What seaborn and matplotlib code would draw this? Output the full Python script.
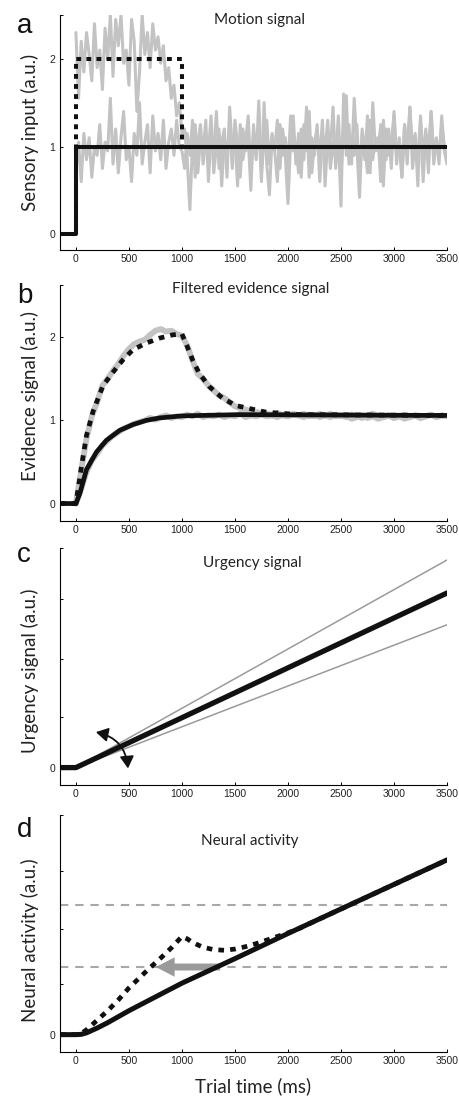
import numpy as np
import pandas as pd
import seaborn as sns
import matplotlib.pyplot as plt
from matplotlib.patches import FancyArrowPatch

# ---- a: motion signal (noisy samples every 25 ms from 0 to 3500 ms) ----
motion_strong = [2.30, 1.55, 2.20, 1.85, 2.30, 2.05, 1.75, 2.40, 1.90, 2.10, 1.65, 2.35, 2.00,
                 2.50, 1.80, 2.45, 2.15, 2.50, 1.95, 2.10, 1.70, 2.45, 2.20, 1.40, 1.85, 2.50,
                 2.05, 2.30, 1.90, 2.40, 2.10, 2.25, 1.95, 2.15, 1.75, 1.90, 1.55, 1.70, 1.35,
                 1.50, 1.15,
                 1.20, 0.85, 0.28, 1.05, 1.25, 0.70, 1.10, 0.95, 1.30, 0.60, 1.15, 0.90, 1.40,
                 0.75, 1.05, 1.20, 0.65, 1.45, 0.95, 1.10, 0.55, 1.25, 0.85, 1.05, 1.35, 0.70,
                 1.15, 0.90, 1.25, 0.60, 1.50, 0.80, 0.45, 1.10, 0.95, 1.30, 0.75, 1.20, 0.90,
                 0.35, 1.05, 1.35, 0.80, 1.15, 0.65, 1.25, 0.95, 1.40, 0.70, 1.05, 1.20, 0.85,
                 1.30, 0.55, 1.10, 0.95, 1.45, 0.75, 1.15, 0.32, 1.60, 0.90, 1.25, 0.80, 1.55,
                 1.00, 0.42, 1.20, 0.85, 1.35, 0.70, 1.50, 0.95, 1.10, 0.60, 1.30, 0.85, 1.20,
                 0.75, 1.40, 0.90, 1.05, 0.65, 1.25, 0.80, 1.45, 0.95, 1.15, 0.55, 1.35, 0.85,
                 1.20, 0.70, 1.40, 0.90, 1.10, 0.80, 1.35, 0.95, 0.80]
motion_weak = [0.70, 1.05, 0.60, 1.15, 0.85, 1.10, 0.65, 1.00, 0.90, 1.25, 0.75, 1.05, 0.95,
               1.55, 0.80, 1.20, 0.70, 1.10, 1.40, 0.85, 1.00, 0.60, 1.15, 0.90, 1.50, 0.80,
               1.05, 1.25, 0.70, 1.35, 0.95, 1.15, 0.85, 1.30, 0.75, 1.05, 1.20, 0.90, 1.30,
               1.00, 0.95,
               0.75, 1.15, 0.90, 1.30, 0.65, 1.05, 1.25, 0.80, 1.10, 0.95, 1.35, 0.70, 1.00,
               1.20, 0.55, 1.10, 0.90, 1.25, 0.75, 1.30, 1.00, 0.65, 1.20, 0.95, 1.10, 0.50,
               1.25, 0.85, 1.52, 0.70, 1.05, 1.30, 0.80, 1.15, 0.95, 0.60, 1.25, 0.90, 1.10,
               0.75, 1.35, 0.95, 1.05, 0.70, 1.20, 0.85, 1.45, 0.65, 1.10, 0.90, 1.25, 0.60,
               1.15, 0.95, 1.30, 0.75, 1.05, 0.85, 1.35, 0.70, 1.15, 1.58, 0.80, 1.05, 0.90,
               1.25, 0.65, 1.15, 1.00, 0.70, 1.30, 0.85, 1.10, 0.95, 1.25, 0.55, 1.20, 0.90,
               1.05, 1.35, 0.80, 1.10, 0.65, 1.25, 0.95, 1.45, 0.75, 1.05, 0.90, 1.30, 0.60,
               1.15, 0.95, 1.40, 0.80, 1.05, 0.90, 1.25, 1.00, 0.85]
step_t_weak = [-150, 0, 0, 3500]
step_weak = [0, 0, 1, 1]
step_t_strong = [-150, 0, 0, 1000, 1000, 3500]
step_strong = [0, 0, 2, 2, 1, 1]

# ---- b: filtered evidence (gray = noisy traces every 50 ms) ----
evid_noisy_strong = [0.00, 0.40, 0.78, 1.05, 1.22, 1.42, 1.50, 1.60, 1.68, 1.78, 1.86, 1.92, 1.95,
                     1.97, 2.03, 2.08, 2.10, 2.07, 2.08, 2.04, 2.02, 1.90, 1.72, 1.56, 1.50, 1.42,
                     1.36, 1.30, 1.27, 1.22, 1.17, 1.15, 1.13, 1.11, 1.10, 1.09, 1.08, 1.07, 1.09,
                     1.06, 1.05, 1.07, 1.06, 1.08, 1.05, 1.07, 1.04, 1.06, 1.08, 1.05, 1.06, 1.04,
                     1.07, 1.05, 1.03, 1.06, 1.08, 1.05, 1.04, 1.06, 1.03, 1.05, 1.07, 1.04, 1.06,
                     1.03, 1.05, 1.07, 1.04, 1.06, 1.05]
evid_noisy_weak = [0.00, 0.18, 0.38, 0.52, 0.60, 0.70, 0.76, 0.82, 0.86, 0.90, 0.93, 0.96, 0.98,
                   1.00, 1.03, 1.01, 1.04, 1.06, 1.03, 1.05, 1.04, 1.07, 1.05, 1.08, 1.04, 1.06,
                   1.05, 1.07, 1.04, 1.06, 1.05, 1.08, 1.04, 1.06, 1.05, 1.07, 1.05, 1.06, 1.04,
                   1.07, 1.05, 1.08, 1.06, 1.04, 1.07, 1.05, 1.08, 1.06, 1.04, 1.07, 1.05, 1.06,
                   1.02, 1.04, 1.06, 1.03, 1.05, 1.02, 1.04, 1.06, 1.03, 1.05, 1.02, 1.04, 1.06,
                   1.03, 1.05, 1.07, 1.04, 1.06, 1.05]
evid_t_weak = [-150, 0, 37, 100, 194, 287, 412, 537, 662, 787, 1000, 1537, 3500]
evid_weak = [0, 0, 0.12, 0.41, 0.62, 0.76, 0.88, 0.95, 1.00, 1.03, 1.055, 1.07, 1.06]
evid_t_strong = [-150, 0, 53, 100, 162, 256, 350, 444, 537, 662, 787, 912, 1000, 1037, 1100,
                 1162, 1256, 1381, 1506, 1792, 2107, 3500]
evid_strong = [0, 0, 0.45, 0.82, 1.11, 1.42, 1.58, 1.73, 1.85, 1.93, 1.99, 2.03, 2.04, 1.93,
               1.73, 1.57, 1.41, 1.27, 1.18, 1.10, 1.07, 1.06]

# ---- c: urgency ----
urg_t = [-150, 0, 3500]
urg_mid = [0, 0, 2.91]
urg_fan_t = [0, 3500]
urg_steep = [0, 3.46]
urg_shallow = [0, 2.38]

# ---- d: neural activity ----
act_t_weak = [-150, 0, 50, 100, 200, 300, 400, 500, 750, 1000, 1500, 2000, 2500, 3000, 3500]
act_weak = [0, 0, 0.005, 0.03, 0.11, 0.20, 0.30, 0.40, 0.63, 0.86, 1.27, 1.69, 2.10, 2.51, 2.92]
act_t_strong = [-150, 0, 50, 100, 150, 200, 300, 400, 500, 600, 700, 800, 900, 1000, 1050, 1100,
                1200, 1300, 1400, 1500, 1600, 1700, 1800, 1900, 2000, 2100, 2500, 3000, 3500]
act_strong = [0, 0, 0.02, 0.08, 0.16, 0.24, 0.40, 0.58, 0.78, 0.95, 1.12, 1.28, 1.45, 1.64, 1.60,
              1.54, 1.46, 1.42, 1.41, 1.43, 1.47, 1.52, 1.58, 1.64, 1.70, 1.77, 2.10, 2.51, 2.92]
bounds = [2.17, 1.13]

xticks = [0, 500, 1000, 1500, 2000, 2500, 3000, 3500]

sns.set_theme(style="ticks")
plt.rcParams['font.family'] = ['Liberation Sans', 'DejaVu Sans']

W, H = 460, 1098
fig = plt.figure(figsize=(W / 100, H / 100), dpi=100)


def px_axes(top, bottom, left=60, right=447):
    return fig.add_axes([left / W, 1 - bottom / H, (right - left) / W, (bottom - top) / H])


BLACK = '#111111'
GRAY = '#c3c3c3'
DOT = (0, (1.2, 1.3))
LABEL_FONT = ['Lato', 'DejaVu Sans']


def line(ax, x, y, **kw):
    sns.lineplot(x=x, y=y, ax=ax, estimator=None, sort=False, **kw)


def style(ax, ylim, yticks, ylabels, ylabel, label_y, title, tx, ty, letter, letter_y):
    ax.set_xlim(-150, 3500)
    ax.set_ylim(*ylim)
    ax.set_xticks(xticks)
    ax.set_xticklabels([str(v) for v in xticks])
    ax.set_yticks(yticks + [ylim[1]])
    ax.set_yticklabels(ylabels + [''])
    sns.despine(ax=ax)
    for s in ['left', 'bottom']:
        ax.spines[s].set_linewidth(0.8)
        ax.spines[s].set_color('black')
    ax.tick_params(direction='in', length=2.5, width=0.7, labelsize=7.5,
                   labelcolor='#222222', color='black')
    ax.tick_params(axis='x', pad=3)
    ax.tick_params(axis='y', pad=3.5)
    ax.set_ylabel(ylabel, family=LABEL_FONT, fontsize=13.5, color='#222222', va='center')
    ax.yaxis.set_label_coords(-0.078, label_y)
    ax.text(tx, ty, title, transform=ax.transAxes, ha='center', va='center',
            family=LABEL_FONT, fontsize=11, color='#222222')
    fig.text(17 / W, 1 - letter_y / H, letter, fontsize=20, va='baseline', ha='left', color='#111111')


# a
ax = px_axes(15, 250)
line(ax, np.linspace(0, 3500, len(motion_strong)), motion_strong, color=GRAY, linewidth=2.2)
line(ax, np.linspace(0, 3500, len(motion_weak)), motion_weak, color=GRAY, linewidth=2.2)
line(ax, step_t_weak, step_weak, color=BLACK, linewidth=2.9)
line(ax, step_t_strong, step_strong, color=BLACK, linewidth=2.9, linestyle=DOT)
style(ax, (-0.18, 2.5), [0, 1, 2], ['0', '1', '2'], 'Sensory input (a.u.)', 0.5,
      'Motion signal', 0.516, 0.979, 'a', 33)

# b
ax = px_axes(285, 521)
line(ax, np.linspace(0, 3500, len(evid_noisy_strong)), evid_noisy_strong, color=GRAY, linewidth=4.2)
line(ax, np.linspace(0, 3500, len(evid_noisy_weak)), evid_noisy_weak, color=GRAY, linewidth=4.2)
line(ax, evid_t_weak, evid_weak, color=BLACK, linewidth=3.4)
line(ax, evid_t_strong, evid_strong, color=BLACK, linewidth=3.4, linestyle=DOT)
style(ax, (-0.21, 2.63), [0, 1, 2], ['0', '1', '2'], 'Evidence signal (a.u.)', 0.53,
      'Filtered evidence signal', 0.494, 0.985, 'b', 303)

# c
ax = px_axes(548, 785)
line(ax, urg_fan_t, urg_steep, color='#9a9a9a', linewidth=1.1)
line(ax, urg_fan_t, urg_shallow, color='#9a9a9a', linewidth=1.1)
line(ax, urg_t, urg_mid, color=BLACK, linewidth=3.8)
arc = FancyArrowPatch((163, 0.6), (493, -0.06), connectionstyle='arc3,rad=-0.4',
                      arrowstyle='<|-|>,head_length=0.6,head_width=0.35', mutation_scale=12,
                      color=BLACK, lw=1.3, clip_on=False, zorder=5)
ax.add_patch(arc)
style(ax, (-0.29, 3.66), [0, 0.85, 1.81, 2.81], ['0', '', '', ''], 'Urgency signal (a.u.)', 0.48,
      'Urgency signal', 0.496, 0.937, 'c', 562)

# d
ax = px_axes(815, 1052)
for b in bounds:
    ax.axhline(b, color='#a8a8a8', linewidth=1.5, linestyle=(0, (4, 3.3)), zorder=1)
ax.annotate('', xy=(728, bounds[1]), xytext=(1387, bounds[1]),
            arrowprops=dict(arrowstyle='simple,head_length=1.35,head_width=1.4,tail_width=0.5',
                            color='#9a9a9a', lw=0, mutation_scale=10), zorder=2)
line(ax, act_t_weak, act_weak, color=BLACK, linewidth=3.6)
line(ax, act_t_strong, act_strong, color=BLACK, linewidth=3.4, linestyle=DOT)
style(ax, (-0.29, 3.67), [0, 0.845, 1.76, 2.74], ['0', '', '', ''], 'Neural activity (a.u.)', 0.47,
      'Neural activity', 0.491, 0.89, 'd', 837)
ax.set_xlabel('Trial time (ms)', family=LABEL_FONT, fontsize=13.5, color='#222222', labelpad=8)

fig.savefig('out.png', dpi=100)
